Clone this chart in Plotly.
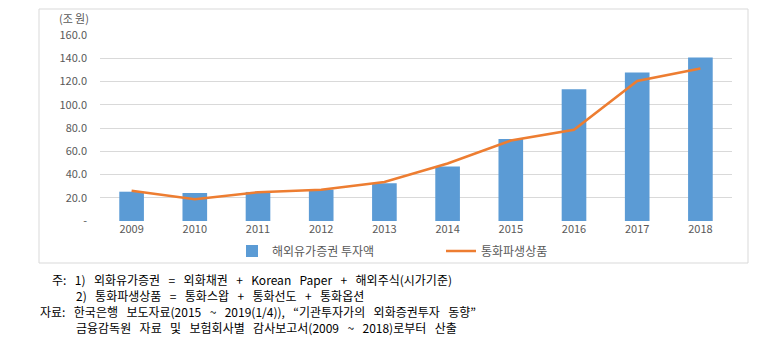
import plotly.graph_objects as go

years = ["2009", "2010", "2011", "2012", "2013", "2014", "2015", "2016", "2017", "2018"]
securities = [25.2, 24.1, 25.0, 27.0, 32.4, 46.8, 70.6, 113.3, 127.7, 140.6]
derivatives = [26.1, 18.8, 24.8, 26.8, 33.6, 49.5, 69.2, 78.5, 120.5, 131.2]
ytick_vals = [0, 20, 40, 60, 80, 100, 120, 140, 160]
ytick_text = ["-", "20.0", "40.0", "60.0", "80.0", "100.0", "120.0", "140.0", "160.0"]
series_names = ["해외유가증권 투자액", "통화파생상품"]
unit_label = "(조원)"
notes = [
    "주: 1) 외화유가증권 = 외화채권 + Korean Paper + 해외주식(시가기준)",
    "2) 통화파생상품 = 통화스왑 + 통화선도 + 통화옵션",
    "자료: 한국은행 보도자료(2015 ~ 2019(1/4)), “기관투자가의 외화증권투자 동향”",
    "금융감독원 자료 및 보험회사별 감사보고서(2009 ~ 2018)로부터 산출",
]

# page body has an 8px margin: work in reference pixels shifted by -8
OFF = 8
W, H = 775 - OFF, 357 - OFF
L, T = 100 - OFF, 35 - OFF
R = W - (732 - OFF)
B = H - (221 - OFF)
pw, ph = W - L - R, H - T - B

def px_x(x):
    return (x - OFF - L) / pw

def px_y(y):
    return (H - B - (y - OFF)) / ph

fig = go.Figure()
fig.add_trace(go.Bar(x=years, y=securities, name=series_names[0],
                     marker=dict(color="#5b9bd5", line=dict(width=0))))
fig.add_trace(go.Scatter(x=years, y=derivatives, name=series_names[1], mode="lines",
                         line=dict(color="#ed7d31", width=2.5)))

font_chart = "Noto Sans CJK KR, Open Sans, sans-serif"
fig.update_layout(
    width=W, height=H,
    margin=dict(l=L, r=R, t=T, b=B),
    paper_bgcolor="white", plot_bgcolor="white",
    font=dict(family=font_chart, size=11, color="#595959"),
    showlegend=True,
    legend=dict(orientation="h", x=px_x(232), xanchor="left", y=px_y(251), yanchor="middle",
                font=dict(size=12, color="#595959"), itemwidth=30, entrywidth=164,
                bgcolor="rgba(0,0,0,0)"),
    bargap=0.61,
)
fig.update_xaxes(showgrid=False, showline=False, ticks="", tickfont=dict(size=11, color="#595959"),
                 type="category")
fig.update_yaxes(range=[0, 160], tickvals=ytick_vals, ticktext=ytick_text,
                 showgrid=True, gridcolor="#d9d9d9", gridwidth=1, zeroline=False,
                 showline=False, ticks="", ticklabelstandoff=12,
                 tickfont=dict(size=11, color="#595959"))

# chart border
fig.add_shape(type="rect", xref="paper", yref="paper",
              x0=px_x(39), x1=px_x(748), y0=px_y(263), y1=px_y(9),
              line=dict(color="#d9d9d9", width=1), layer="below")

fig.add_annotation(text=unit_label.replace("조", "조\u2009"), xref="paper", yref="paper",
                   x=px_x(74), y=px_y(18), xanchor="center", yanchor="middle",
                   showarrow=False, font=dict(size=11, color="#595959"))

note_font = dict(family="Noto Sans CJK KR, sans-serif", size=12, color="#000000")
note_pos = [(50, 279), (74, 295), (38, 311), (74, 327)]
for txt, (nx, ny) in zip(notes, note_pos):
    fig.add_annotation(text=txt.replace(" ", "\u2002\u2009"), xref="paper", yref="paper",
                       x=px_x(nx), y=px_y(ny),
                       xanchor="left", yanchor="middle", showarrow=False, font=note_font)

fig.write_html("out.html")
